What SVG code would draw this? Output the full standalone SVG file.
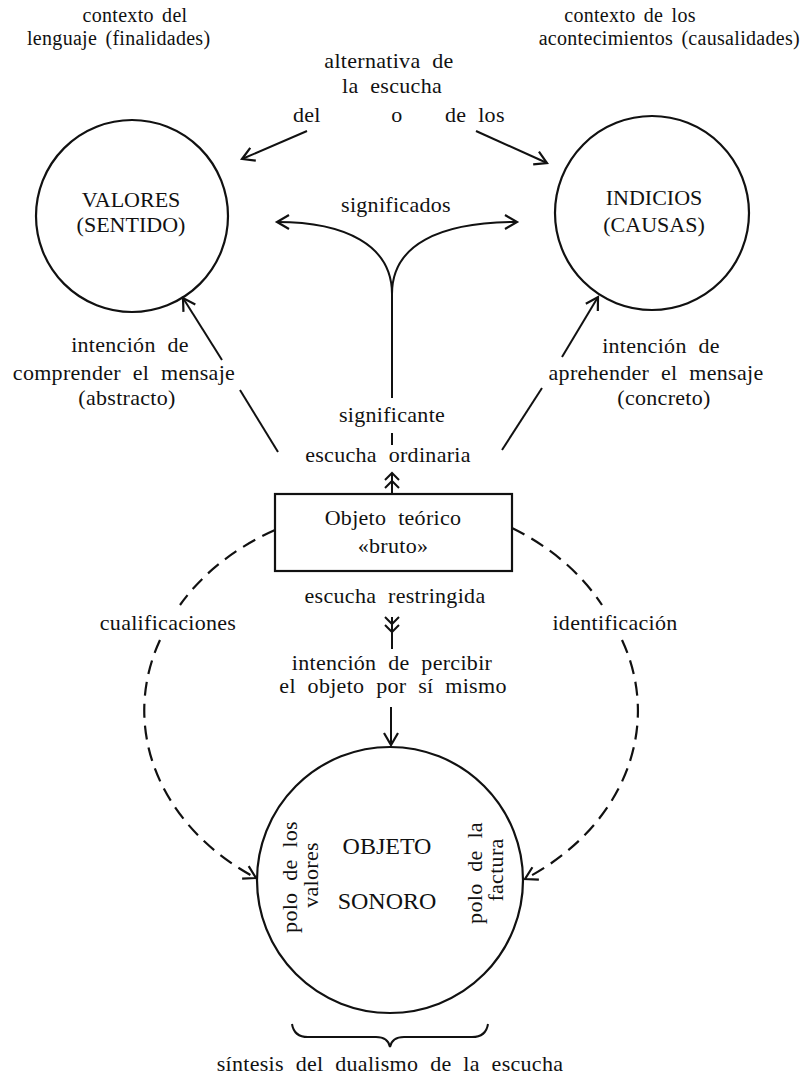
<svg xmlns="http://www.w3.org/2000/svg" width="804" height="1081" viewBox="0 0 804 1081">
<style>
text{font-family:"Liberation Serif","Times New Roman",serif;font-size:22px;fill:#111;word-spacing:6px;letter-spacing:0.3px}
.c{text-anchor:middle}
.top{font-size:20px;word-spacing:3px}
.cap{font-size:22px;letter-spacing:0}
.big{font-size:24px;letter-spacing:0}
.node{fill:none;stroke:#111;stroke-width:2.2}
.ln{fill:none;stroke:#111;stroke-width:2}
.dash{fill:none;stroke:#111;stroke-width:2.2;stroke-dasharray:14 8}
</style>
<defs>
<marker id="ah" markerUnits="userSpaceOnUse" markerWidth="20" markerHeight="20" viewBox="0 0 20 20" refX="14" refY="10" orient="auto">
<path d="M2,3 L14,10 L2,17" fill="none" stroke="#111" stroke-width="2.2"/>
</marker>
</defs>
<rect width="804" height="1081" fill="#fff"/>

<g id="labels-top">
<text class="c top" x="135" y="22">contexto del</text>
<text class="top" x="27" y="45">lenguaje (finalidades)</text>
<text class="c top" x="630" y="22">contexto de los</text>
<text class="top" x="800" y="45" text-anchor="end">acontecimientos (causalidades)</text>
<text class="c" x="389" y="68">alternativa de</text>
<text class="c" x="392" y="93">la escucha</text>
<text x="293" y="122">del</text>
<text class="c" x="397" y="122">o</text>
<text x="445" y="122">de los</text>
<text class="c" x="396" y="212">significados</text>
<text class="c" x="392" y="422">significante</text>
<text class="c" x="388" y="462">escucha ordinaria</text>
</g>

<g id="valores">
<circle class="node" cx="132" cy="216" r="96"/>
<text class="c cap" x="131" y="207">VALORES</text>
<text class="c cap" x="131" y="232">(SENTIDO)</text>
</g>

<g id="indicios">
<circle class="node" cx="652" cy="213" r="97"/>
<text class="c cap" x="654" y="205">INDICIOS</text>
<text class="c cap" x="654" y="232">(CAUSAS)</text>
</g>

<g id="objeto-teorico">
<rect class="node" x="275" y="494" width="237" height="77"/>
<text class="c" x="393" y="525">Objeto teórico</text>
<text class="c" x="393" y="553">«bruto»</text>
</g>

<g id="objeto-sonoro">
<circle class="node" cx="390" cy="880" r="133"/>
<text class="c big" x="387" y="854">OBJETO</text>
<text class="c big" x="387" y="909">SONORO</text>
<text class="c" transform="translate(297,877) rotate(-90)">polo de los</text>
<text class="c" transform="translate(318,875) rotate(-90)">valores</text>
<text class="c" transform="translate(482,873) rotate(-90)">polo de la</text>
<text class="c" transform="translate(503,870) rotate(-90)">factura</text>
</g>

<g id="side-labels">
<text class="c" x="130" y="352">intención de</text>
<text class="c" x="124" y="380">comprender el mensaje</text>
<text class="c" x="127" y="405">(abstracto)</text>
<text class="c" x="661" y="353">intención de</text>
<text class="c" x="656" y="380">aprehender el mensaje</text>
<text class="c" x="664" y="405">(concreto)</text>
<text class="c" x="395" y="603">escucha restringida</text>
<text class="c" x="392" y="670">intención de percibir</text>
<text class="c" x="393" y="693">el objeto por sí mismo</text>
<text class="c" x="168" y="630">cualificaciones</text>
<text class="c" x="615" y="630">identificación</text>
<text class="c" x="390" y="1071">síntesis del dualismo de la escucha</text>
</g>

<g id="connectors">
<path class="ln" d="M307,131 L242,159" marker-end="url(#ah)"/>
<path class="ln" d="M476,131 L547,163" marker-end="url(#ah)"/>
<path class="ln" d="M392,398 L392,293"/>
<path class="ln" d="M392,294 C392,245 345,222 277,222" marker-end="url(#ah)"/>
<path class="ln" d="M392,294 C392,245 439,222 517,222" marker-end="url(#ah)"/>
<path class="ln" d="M392,433 L392,445"/>
<path class="ln" d="M392,473 L392,493 M385,480 L392,473 L399,480 M385,488 L392,481 L399,488"/>
<path class="ln" d="M278,452 L240,390"/>
<path class="ln" d="M222,360 L183,298" marker-end="url(#ah)"/>
<path class="ln" d="M502,450 L542,388"/>
<path class="ln" d="M562,357 L598,297" marker-end="url(#ah)"/>
<path class="ln" d="M392,617 L392,649 M385,617 L392,624 L399,617 M385,625 L392,632 L399,625"/>
<path class="ln" d="M391,707 L391,745" marker-end="url(#ah)"/>
<path class="dash" d="M275,530 A246,200 0 0 0 180,605"/>
<path class="dash" d="M160,640 A246,200 0 0 0 256,878" marker-end="url(#ah)"/>
<path class="dash" d="M512,528 A246,200 0 0 1 602,605"/>
<path class="dash" d="M622,640 A246,200 0 0 1 525,879" marker-end="url(#ah)"/>
<path class="ln" d="M292,1024 Q294,1037 308,1037 L376,1037 Q388,1037 390,1047 Q392,1037 404,1037 L472,1037 Q486,1037 488,1024"/>
</g>
</svg>
